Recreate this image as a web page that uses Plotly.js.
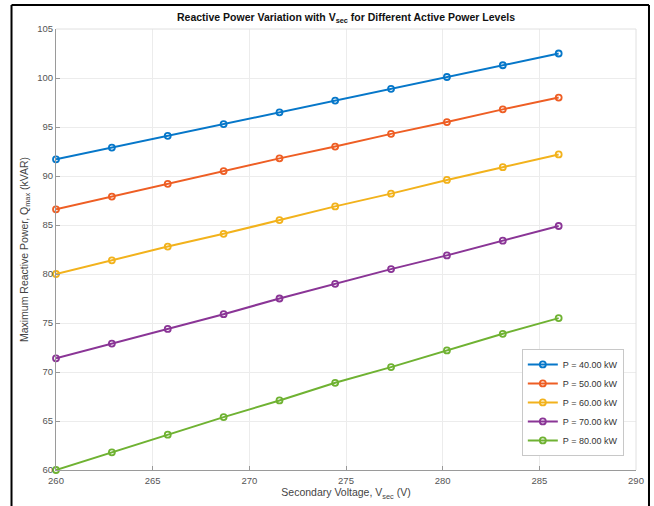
<!DOCTYPE html>
<html>
<head>
<meta charset="utf-8">
<script src="https://cdn.plot.ly/plotly-3.0.1.min.js"></script>
<style>
  html, body { margin: 0; padding: 0; background: #ffffff; }
  #chart { width: 654px; height: 506px; }
</style>
</head>
<body>
<div id="chart"></div>
<script>
// Secondary voltage (V)
const vsec = [260.00, 262.89, 265.78, 268.67, 271.56, 274.44, 277.33, 280.22, 283.11, 286.00];

// Series names
const seriesNames = ["P = 40.00 kW", "P = 50.00 kW", "P = 60.00 kW", "P = 70.00 kW", "P = 80.00 kW"];

// Maximum reactive power Qmax (kVAR) for each active power level
const q40 = [91.7, 92.9, 94.1, 95.3, 96.5, 97.7, 98.9, 100.1, 101.3, 102.5];
const q50 = [86.6, 87.9, 89.2, 90.5, 91.8, 93.0, 94.3, 95.5, 96.8, 98.0];
const q60 = [80.0, 81.4, 82.8, 84.1, 85.5, 86.9, 88.2, 89.6, 90.9, 92.2];
const q70 = [71.4, 72.9, 74.4, 75.9, 77.5, 79.0, 80.5, 81.9, 83.4, 84.9];
const q80 = [60.0, 61.8, 63.6, 65.4, 67.1, 68.9, 70.5, 72.2, 73.9, 75.5];

// Axis ticks
const xTicks = [260, 265, 270, 275, 280, 285, 290];
const yTicks = [60, 65, 70, 75, 80, 85, 90, 95, 100, 105];

const seriesValues = [q40, q50, q60, q70, q80];
const colors = ["#0677c9", "#ee5e24", "#f2b21c", "#8a3596", "#6fb232"];

const traces = seriesValues.map((vals, i) => ({
  type: "scatter",
  mode: "lines+markers",
  x: vsec,
  y: vals,
  name: seriesNames[i],
  cliponaxis: false,
  line: { color: colors[i], width: 2 },
  marker: { symbol: "circle-open", size: 6, color: colors[i], line: { color: colors[i], width: 1.8 } }
}));

const gray = "#555555";

const layout = {
  width: 654,
  height: 506,
  margin: { l: 56, r: 18, t: 29, b: 36 },
  paper_bgcolor: "#ffffff",
  plot_bgcolor: "#ffffff",
  font: { family: "Liberation Sans, Arial, sans-serif", size: 9, color: gray },
  title: {
    text: "<b>Reactive Power Variation with V<sub>sec</sub> for Different Active Power Levels</b>",
    font: { family: "Liberation Sans, Arial, sans-serif", size: 10.5, color: "#111111" },
    x: 0.5, xref: "paper", xanchor: "center",
    y: 0.966, yref: "container", yanchor: "middle"
  },
  xaxis: {
    range: [260, 290],
    tickvals: xTicks,
    ticktext: xTicks.map(String),
    ticks: "inside", ticklen: 4, tickcolor: "#999999", tickwidth: 1,
    ticklabelstandoff: 2,
    showline: true, linecolor: "#9a9a9a", linewidth: 1, mirror: false,
    showgrid: true, gridcolor: "#ececec", gridwidth: 1,
    zeroline: false,
    tickfont: { size: 9.5, color: gray },
    title: { text: "Secondary Voltage, V<sub>sec</sub> (V)", font: { size: 10.5, color: "#444444" }, standoff: 2 }
  },
  yaxis: {
    range: [60, 105],
    tickvals: yTicks,
    ticktext: yTicks.map(String),
    ticks: "inside", ticklen: 4, tickcolor: "#999999", tickwidth: 1,
    showline: true, linecolor: "#9a9a9a", linewidth: 1, mirror: false,
    showgrid: true, gridcolor: "#ececec", gridwidth: 1,
    zeroline: false,
    tickfont: { size: 9.5, color: gray },
    title: { text: "Maximum Reactive Power, Q<sub>max</sub> (kVAR)", font: { size: 10.5, color: "#444444" }, standoff: 6 }
  },
  legend: {
    x: 0.979, xanchor: "right",
    y: 0.032, yanchor: "bottom",
    bgcolor: "#ffffff",
    bordercolor: "#c8c8c8", borderwidth: 1,
    font: { size: 9, color: "#333333" },
    tracegroupgap: 0,
    itemwidth: 30
  },
  showlegend: true,
  shapes: [
    // top & right box edges of the axes
    { type: "line", xref: "paper", yref: "paper", x0: 0, x1: 1, y0: 1, y1: 1, line: { color: "#e0e0e0", width: 1 } },
    { type: "line", xref: "paper", yref: "paper", x0: 1, x1: 1, y0: 0, y1: 1, line: { color: "#e0e0e0", width: 1 } },
    // outer black frame of the figure image
    { type: "line", xref: "paper", yref: "paper", x0: -0.0767, x1: 1.0224, y0: 1.0544, y1: 1.0544, line: { color: "#000000", width: 2 } },
    { type: "line", xref: "paper", yref: "paper", x0: -0.0767, x1: -0.0767, y0: 1.0544, y1: -0.1, line: { color: "#000000", width: 2 } },
    { type: "line", xref: "paper", yref: "paper", x0: 1.0224, x1: 1.0224, y0: 1.0544, y1: -0.1, line: { color: "#000000", width: 2 } }
  ]
};

Plotly.newPlot("chart", traces, layout, { displayModeBar: false, staticPlot: true });
</script>
</body>
</html>
